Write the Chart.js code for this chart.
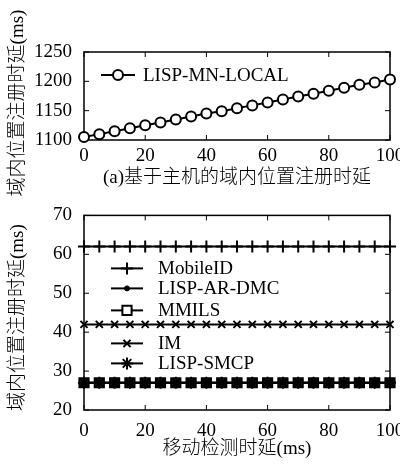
<!DOCTYPE html>
<html>
<head>
<meta charset="utf-8">
<script src="https://cdn.jsdelivr.net/npm/chart.js@4.4.1/dist/chart.umd.min.js"></script>
<style>
html, body { margin: 0; padding: 0; background: #fff; overflow: hidden; width: 400px; height: 472px; }
canvas { position: absolute; left: 0; }
#top { top: 0; }
#bottom { top: 200px; }
</style>
</head>
<body>
<canvas id="top" width="420" height="200"></canvas>
<canvas id="bottom" width="420" height="272"></canvas>
<script>
// data
const xValues = [0, 5, 10, 15, 20, 25, 30, 35, 40, 45, 50, 55, 60, 65, 70, 75, 80, 85, 90, 95, 100];
const mnLocal = [1105, 1110, 1115, 1120, 1125, 1130, 1135, 1140, 1145, 1149, 1154, 1159, 1164, 1169, 1174, 1179, 1184, 1189, 1194, 1198, 1203];
const mobileId = [62, 62, 62, 62, 62, 62, 62, 62, 62, 62, 62, 62, 62, 62, 62, 62, 62, 62, 62, 62, 62];
const arDmc = [27, 27, 27, 27, 27, 27, 27, 27, 27, 27, 27, 27, 27, 27, 27, 27, 27, 27, 27, 27, 27];
const mmils = [27, 27, 27, 27, 27, 27, 27, 27, 27, 27, 27, 27, 27, 27, 27, 27, 27, 27, 27, 27, 27];
const im = [42, 42, 42, 42, 42, 42, 42, 42, 42, 42, 42, 42, 42, 42, 42, 42, 42, 42, 42, 42, 42];
const smcp = [27, 27, 27, 27, 27, 27, 27, 27, 27, 27, 27, 27, 27, 27, 27, 27, 27, 27, 27, 27, 27];
const xTicks = [0, 20, 40, 60, 80, 100];

const yTitle = '域内位置注册时延(ms)';
const captionTop = '(a)基于主机的域内位置注册时延';
const captionBottom = '移动检测时延(ms)';

const FAMILY = '"Liberation Serif", "Noto Sans CJK SC", serif';
Chart.defaults.font.family = FAMILY;
Chart.defaults.font.size = 19;
Chart.defaults.color = '#000';

const pts = ys => xValues.map((x, i) => ({ x: x, y: ys[i] }));

// box round the plot with inward ticks on all four sides
const frame = {
  id: 'frame',
  beforeDatasetsDraw(chart) {
    const { ctx, chartArea: a, scales: { x, y } } = chart;
    ctx.save();
    ctx.strokeStyle = '#000';
    ctx.lineWidth = 1.5;
    ctx.strokeRect(a.left, a.top, a.width, a.height);
    ctx.lineWidth = 1;
    ctx.beginPath();
    x.ticks.forEach(t => {
      const px = x.getPixelForValue(t.value);
      ctx.moveTo(px, a.bottom); ctx.lineTo(px, a.bottom - 5);
      ctx.moveTo(px, a.top); ctx.lineTo(px, a.top + 5);
    });
    y.ticks.forEach(t => {
      const py = y.getPixelForValue(t.value);
      ctx.moveTo(a.left, py); ctx.lineTo(a.left + 5, py);
      ctx.moveTo(a.right, py); ctx.lineTo(a.right - 5, py);
    });
    ctx.stroke();
    ctx.restore();
  }
};

// rotated y title, a little below the plot centre as in the figure
const yLabel = {
  id: 'yLabel',
  afterDraw(chart, args, opts) {
    const { ctx, chartArea: a } = chart;
    ctx.save();
    ctx.translate(18, (a.top + a.bottom) / 2 + opts.shift);
    ctx.rotate(-Math.PI / 2);
    ctx.font = '300 19px ' + FAMILY;
    ctx.fillStyle = '#000';
    ctx.textAlign = 'center';
    ctx.textBaseline = 'middle';
    ctx.fillText(yTitle, 0, 0);
    ctx.restore();
  }
};

// legend drawn inside the plot area
const inLegend = {
  id: 'inLegend',
  afterDraw(chart, args, opts) {
    const { ctx, chartArea: a } = chart;
    ctx.save();
    opts.rows.forEach((dy, i) => {
      const ds = chart.data.datasets[opts.order[i]];
      const y = a.top + dy;
      const x0 = a.left + opts.dx;
      ctx.strokeStyle = '#000';
      ctx.lineWidth = 2;
      ctx.beginPath();
      ctx.moveTo(x0, y); ctx.lineTo(x0 + opts.len, y);
      ctx.stroke();
      ctx.fillStyle = ds.legendFill || ds.pointBackgroundColor;
      ctx.lineWidth = ds.pointBorderWidth;
      Chart.helpers.drawPoint(ctx, {
        pointStyle: ds.pointStyle, radius: ds.pointRadius, rotation: 0, borderWidth: ds.pointBorderWidth
      }, x0 + opts.len / 2, y);
      ctx.fillStyle = '#000';
      ctx.font = '19px "Liberation Serif", serif';
      ctx.textBaseline = 'middle';
      ctx.fillText(ds.label, x0 + opts.len + opts.gap, y + 1);
    });
    ctx.restore();
  }
};

function scales(cfg) {
  return {
    x: {
      type: 'linear', min: 0, max: 100,
      grid: { display: false }, border: { display: false },
      afterBuildTicks: s => { s.ticks = xTicks.map(v => ({ value: v })); },
      ticks: { padding: cfg.xPad, callback: v => String(v) },
      title: { display: true, text: cfg.xTitle, font: { weight: '300' }, padding: { top: 0, bottom: cfg.titlePad } },
      afterFit: s => { s.height = cfg.xHeight; }
    },
    y: {
      min: cfg.yMin, max: cfg.yMax,
      grid: { display: false }, border: { display: false },
      ticks: { stepSize: cfg.yStep, padding: 4, callback: v => String(v) },
      afterFit: s => { s.width = 84; }
    }
  };
}

const common = {
  responsive: false,
  animation: false,
  devicePixelRatio: 1,
  plugins: { legend: { display: false }, tooltip: { enabled: false } }
};

new Chart(document.getElementById('top'), {
  type: 'line',
  data: {
    datasets: [{
      label: 'LISP-MN-LOCAL', data: pts(mnLocal),
      borderColor: '#000', borderWidth: 2,
      pointStyle: 'circle', pointRadius: 5, pointBorderWidth: 2,
      pointBorderColor: '#000', pointBackgroundColor: '#fff', clip: false
    }]
  },
  options: Object.assign({}, common, {
    layout: { padding: { top: 52, right: 30, left: 0, bottom: 0 } },
    scales: scales({ xTitle: captionTop, xPad: -3, titlePad: 11, xHeight: 60, yMin: 1100, yMax: 1250, yStep: 50 }),
    plugins: Object.assign({}, common.plugins, {
      yLabel: { shift: 7 },
      inLegend: { dx: 17, len: 34, gap: 8, rows: [23], order: [0] }
    })
  }),
  plugins: [frame, yLabel, inLegend]
});

new Chart(document.getElementById('bottom'), {
  type: 'line',
  data: {
    datasets: [
      { label: 'MobileID', data: pts(mobileId), order: 1,
        borderColor: '#000', borderWidth: 2, pointStyle: 'cross', pointRadius: 6,
        pointBorderWidth: 2, pointBorderColor: '#000', pointBackgroundColor: '#000', clip: false },
      { label: 'LISP-AR-DMC', data: pts(arDmc), order: 0,
        borderColor: '#000', borderWidth: 2, pointStyle: 'circle', pointRadius: 2.5,
        pointBorderWidth: 1, pointBorderColor: '#000', pointBackgroundColor: '#000', clip: false },
      { label: 'MMILS', data: pts(mmils), order: 3,
        borderColor: '#000', borderWidth: 2, pointStyle: 'rect', pointRadius: 6.5,
        pointBorderWidth: 2, pointBorderColor: '#000', pointBackgroundColor: '#333', legendFill: '#fff', clip: false },
      { label: 'IM', data: pts(im), order: 1,
        borderColor: '#000', borderWidth: 2, pointStyle: 'crossRot', pointRadius: 5,
        pointBorderWidth: 2, pointBorderColor: '#000', pointBackgroundColor: '#000', clip: false },
      { label: 'LISP-SMCP', data: pts(smcp), order: 2,
        borderColor: '#000', borderWidth: 2, pointStyle: 'star', pointRadius: 6,
        pointBorderWidth: 2, pointBorderColor: '#000', pointBackgroundColor: '#000', clip: false }
    ]
  },
  options: Object.assign({}, common, {
    layout: { padding: { top: 15, right: 30, left: 0, bottom: 0 } },
    scales: scales({ xTitle: captionBottom, xPad: 2, titlePad: 12, xHeight: 62, yMin: 20, yMax: 70, yStep: 10 }),
    plugins: Object.assign({}, common.plugins, {
      yLabel: { shift: 5 },
      inLegend: { dx: 27, len: 32, gap: 15, rows: [53, 73, 95, 128, 148], order: [0, 1, 2, 3, 4] }
    })
  }),
  plugins: [frame, yLabel, inLegend]
});
</script>
</body>
</html>
